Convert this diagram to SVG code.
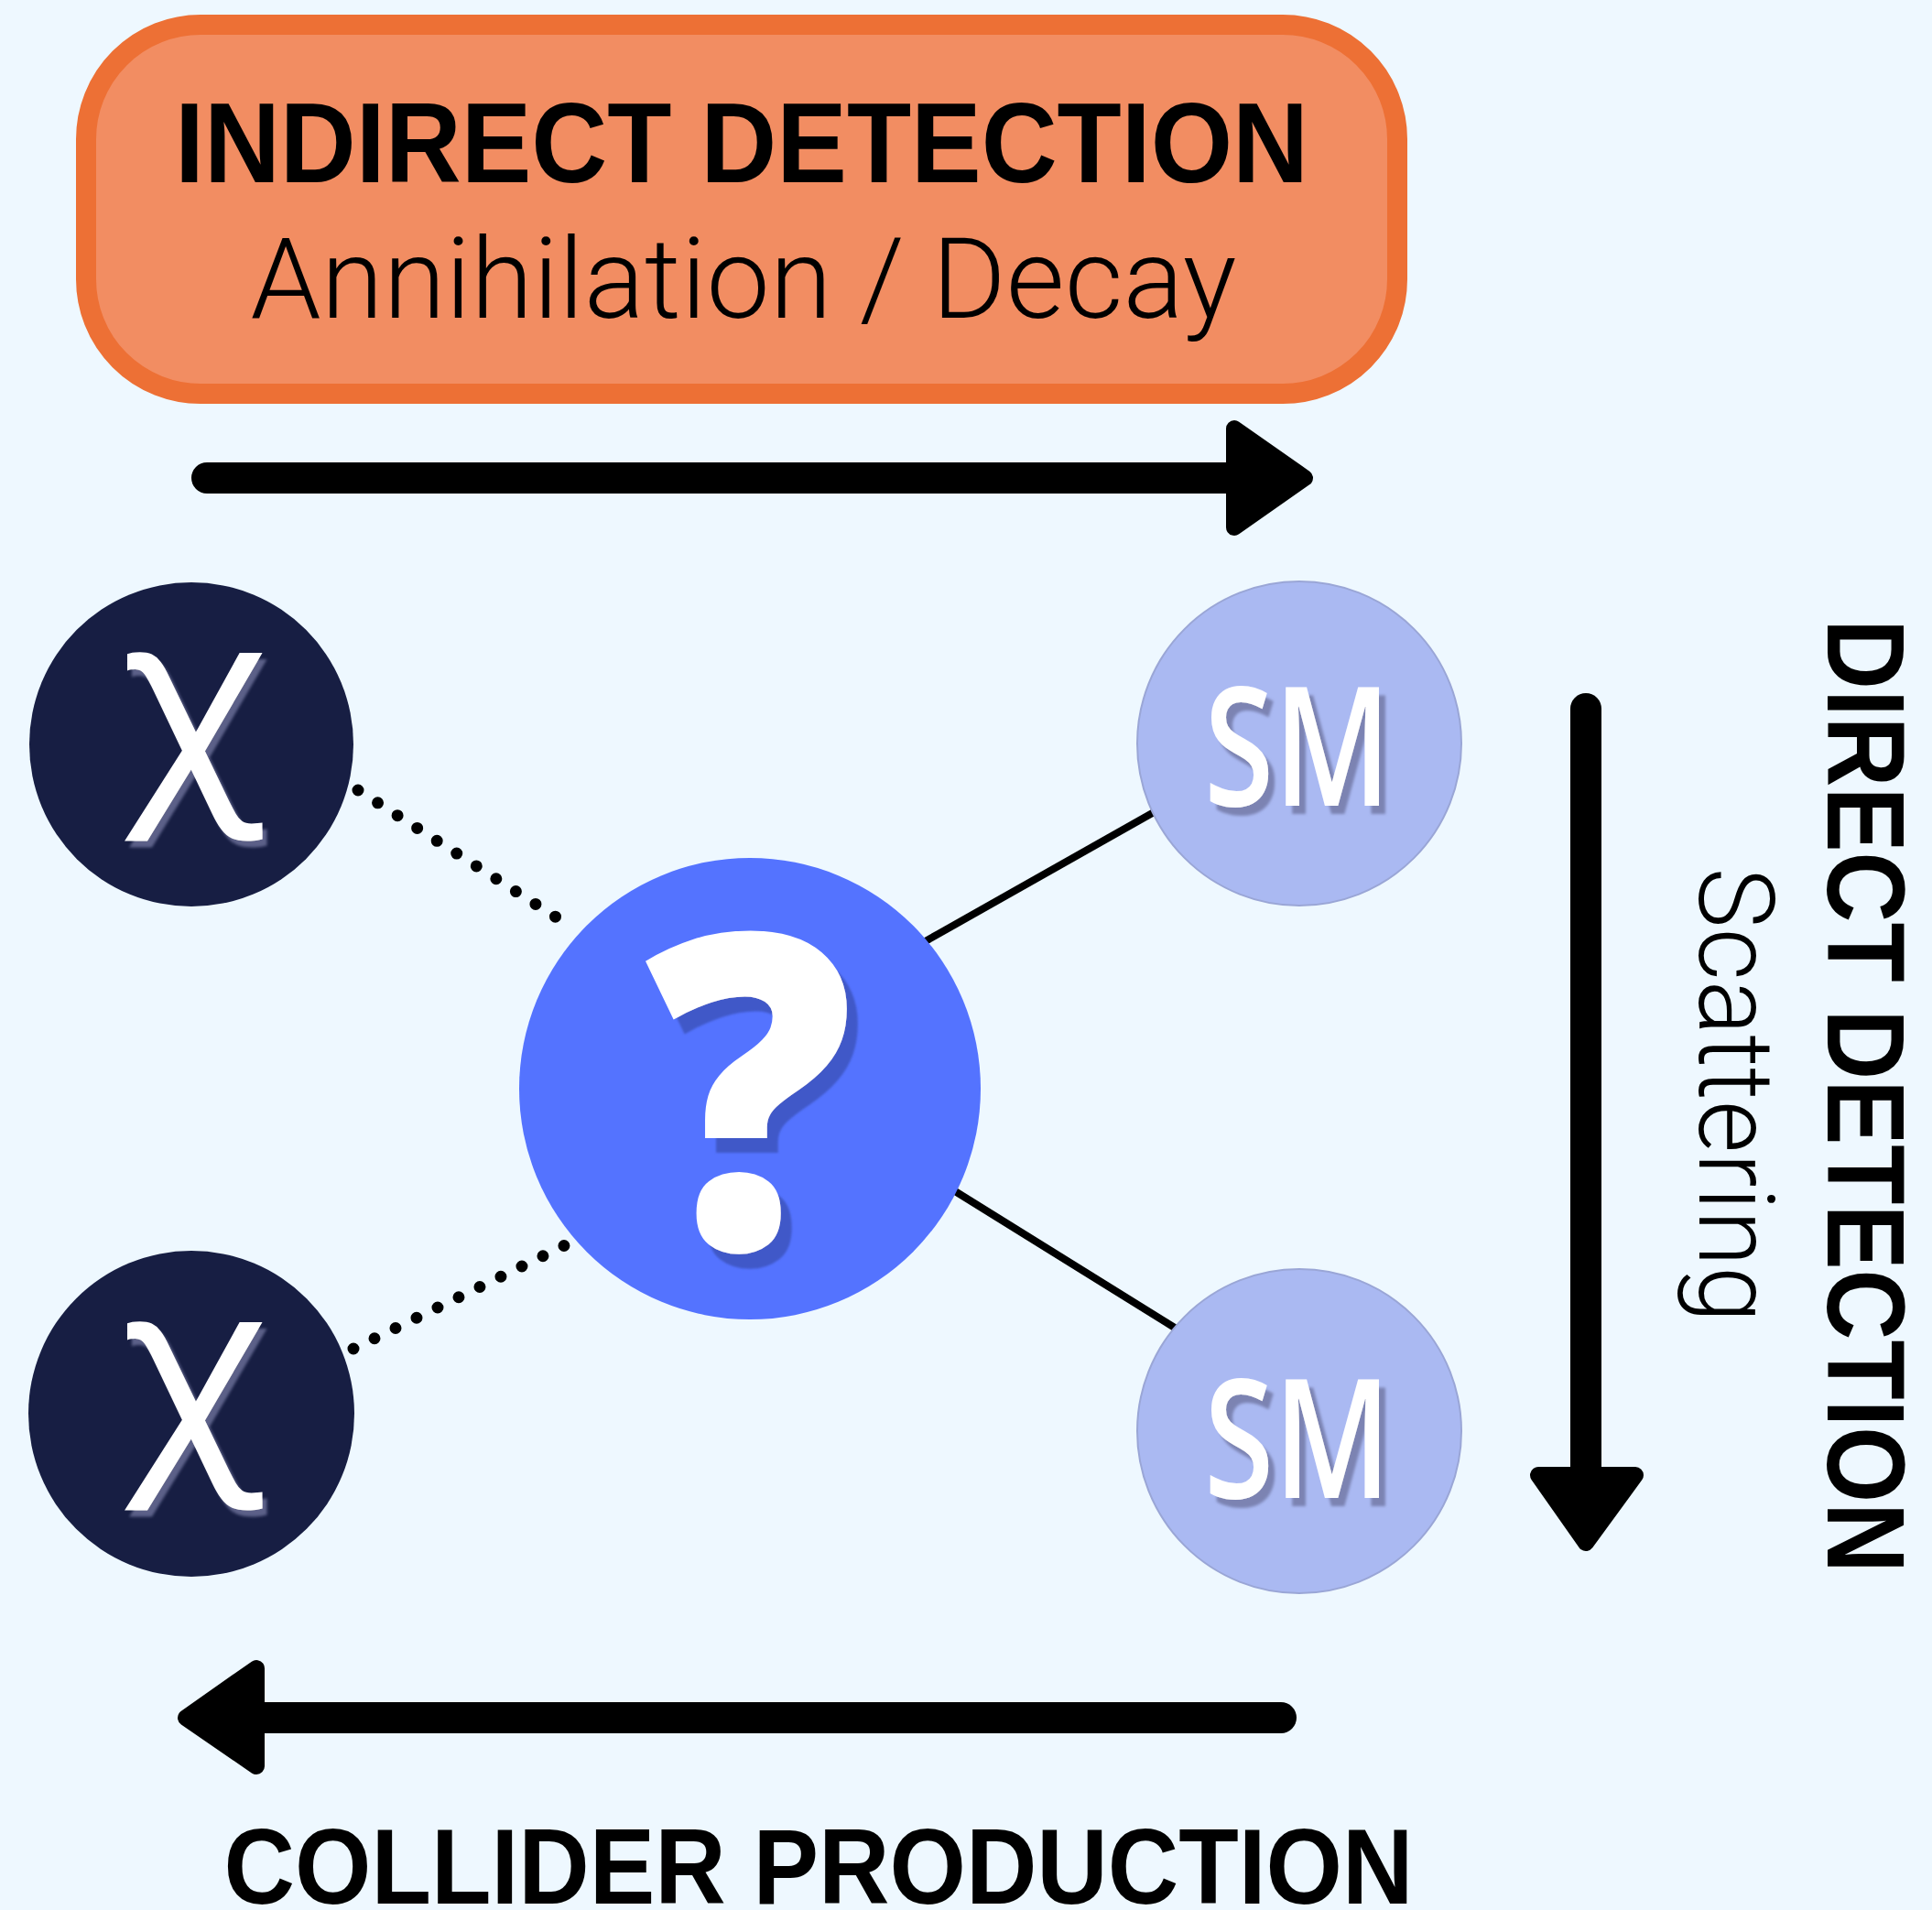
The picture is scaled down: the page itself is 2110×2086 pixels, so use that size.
<svg xmlns="http://www.w3.org/2000/svg" width="2110" height="2086" viewBox="0 0 2110 2086">
<defs>
<filter id="sh-chi" x="-20%" y="-20%" width="140%" height="140%">
<feDropShadow dx="5" dy="7" stdDeviation="1.5" flood-color="#5B6088" flood-opacity="1"/>
</filter>
<filter id="sh-q" x="-20%" y="-20%" width="140%" height="140%">
<feDropShadow dx="12" dy="16" stdDeviation="1" flood-color="#3F58C8" flood-opacity="1"/>
</filter>
<filter id="sh-sm" x="-20%" y="-20%" width="140%" height="140%">
<feDropShadow dx="7" dy="9" stdDeviation="1.5" flood-color="#7B83B2" flood-opacity="1"/>
</filter>
</defs>
<style>
.bold{font-family:"Liberation Sans",Arial,sans-serif;font-weight:bold;fill:#000}
.light{font-family:Roboto,"Liberation Sans",sans-serif;font-weight:300;fill:#000}
.chi-c{fill:#171E43}
.chi{font-family:"Noto Sans","Open Sans",sans-serif;font-weight:400;font-size:265px;fill:#fff;filter:url(#sh-chi)}
.sm-c{fill:#AAB9F2;stroke:#9aa6d6;stroke-width:2}
.sm{font-family:"Open Sans","Liberation Sans",sans-serif;font-weight:600;font-size:182px;fill:#fff;filter:url(#sh-sm)}
.q{font-family:"Open Sans","Liberation Sans",sans-serif;font-weight:800;font-size:480px;fill:#fff;filter:url(#sh-q)}
.dot{stroke:#000;stroke-width:13;stroke-linecap:round;stroke-dasharray:0 25.6;fill:none}
.solid{stroke:#000;stroke-width:8;fill:none}
.shaft{stroke:#000;stroke-width:34;stroke-linecap:round;fill:none}
.head{fill:#000;stroke:#000;stroke-width:18;stroke-linejoin:round}
</style>
<rect width="2110" height="2086" fill="#EEF8FF"/>

<g id="indirect-detection">
<rect x="94" y="27" width="1432" height="403" rx="125" ry="125" fill="#F28D62" stroke="#ED7035" stroke-width="22"/>
<text class="bold" x="810" y="199" text-anchor="middle" font-size="124" textLength="1238" lengthAdjust="spacingAndGlyphs">INDIRECT DETECTION</text>
<text class="light" x="812" y="347" text-anchor="middle" font-size="123" textLength="1077" lengthAdjust="spacingAndGlyphs">Annihilation / Decay</text>
</g>

<g id="connectors">
<line class="dot" x1="391" y1="863" x2="628" y2="1015"/>
<line class="dot" x1="386" y1="1473" x2="621" y2="1358"/>
<line class="solid" x1="1000" y1="1034" x2="1262" y2="886"/>
<line class="solid" x1="1035" y1="1296" x2="1286" y2="1452"/>
</g>

<g id="arrow-indirect">
<line class="shaft" x1="226" y1="522" x2="1345" y2="522"/>
<polygon class="head" points="1348,468 1425,522 1348,576"/>
</g>

<g id="arrow-direct">
<line class="shaft" x1="1732" y1="774" x2="1732" y2="1612"/>
<polygon class="head" points="1680,1611 1786,1611 1732,1685"/>
</g>

<g id="arrow-collider">
<line class="shaft" x1="1399" y1="1876" x2="282" y2="1876"/>
<polygon class="head" points="280,1822 280,1929 203,1876"/>
</g>

<g id="chi-1">
<circle class="chi-c" cx="209" cy="813" r="177"/>
<text class="chi" x="210" y="855" text-anchor="middle">χ</text>
</g>

<g id="chi-2">
<circle class="chi-c" cx="209" cy="1544" r="178"/>
<text class="chi" x="210" y="1586" text-anchor="middle">χ</text>
</g>

<g id="mediator">
<circle cx="819" cy="1189" r="252" fill="#5473FF"/>
<text class="q" x="819" y="1364" text-anchor="middle" textLength="228" lengthAdjust="spacingAndGlyphs">?</text>
</g>

<g id="sm-1">
<circle class="sm-c" cx="1419" cy="812" r="177"/>
<text class="sm" x="1417" y="880" text-anchor="middle" textLength="204" lengthAdjust="spacingAndGlyphs">SM</text>
</g>

<g id="sm-2">
<circle class="sm-c" cx="1419" cy="1563" r="177"/>
<text class="sm" x="1417" y="1636" text-anchor="middle" textLength="204" lengthAdjust="spacingAndGlyphs">SM</text>
</g>

<g id="direct-detection">
<text class="bold" transform="translate(1996,1197) rotate(90)" text-anchor="middle" font-size="120" textLength="1042" lengthAdjust="spacingAndGlyphs">DIRECT DETECTION</text>
<text class="light" transform="translate(1856,1196) rotate(90)" text-anchor="middle" font-size="115" textLength="497" lengthAdjust="spacingAndGlyphs">Scattering</text>
</g>

<g id="collider-production">
<text class="bold" x="894" y="2079" text-anchor="middle" font-size="117" textLength="1299" lengthAdjust="spacingAndGlyphs">COLLIDER PRODUCTION</text>
</g>
</svg>
